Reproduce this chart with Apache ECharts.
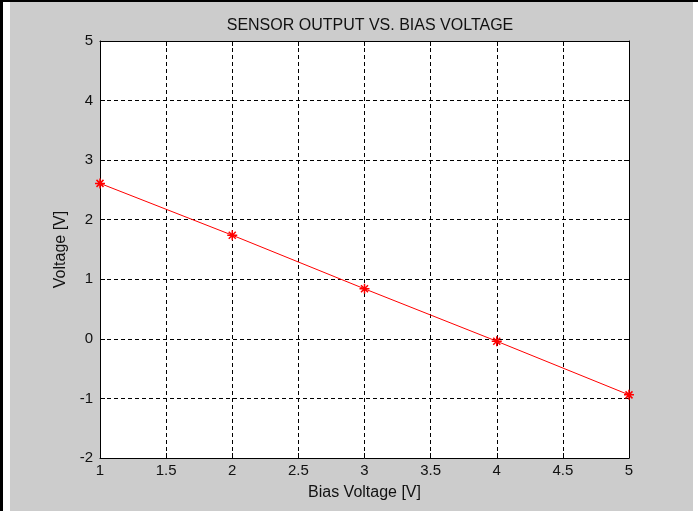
<!DOCTYPE html>
<html>
<head>
<meta charset="utf-8">
<script src="https://cdn.jsdelivr.net/npm/echarts@6/dist/echarts.min.js"></script>
<style>
html, body { margin: 0; padding: 0; background: #fff; }
#chart { width: 698px; height: 511px; }
</style>
</head>
<body>
<div id="chart"></div>
<script>
// bias voltage vs sensor output
const biasVoltage = [1, 2, 3, 4, 5];
const sensorOutput = [2.61, 1.74, 0.84, -0.04, -0.94];
const xTicks = [1, 1.5, 2, 2.5, 3, 3.5, 4, 4.5, 5];
const yTicks = [-2, -1, 0, 1, 2, 3, 4, 5];

const font = 'Arial, "Liberation Sans", sans-serif';
const dashed = { show: true, lineStyle: { color: '#000', type: [4, 3], width: 1 } };
const boxLine = { show: true, onZero: false, lineStyle: { color: '#000', width: 1 } };
const inTick = { show: true, inside: true, length: 5, lineStyle: { color: '#000' } };

let myChart = echarts.init(document.getElementById('chart'));
let option = {
    animation: false,
    backgroundColor: '#cccccc',
    graphic: [
        { type: 'rect', shape: { x: 0, y: 0, width: 698, height: 2 }, style: { fill: '#000' } },
        { type: 'rect', shape: { x: 0, y: 0, width: 3, height: 511 }, style: { fill: '#000' } },
        { type: 'rect', shape: { x: 3, y: 2, width: 7, height: 509 }, style: { fill: '#fff' } },
        { type: 'rect', shape: { x: 693, y: 2, width: 5, height: 509 }, style: { fill: '#fff' } }
    ],
    title: {
        text: 'SENSOR OUTPUT VS. BIAS VOLTAGE',
        left: 365,
        textAlign: 'center',
        top: 13,
        textStyle: { fontFamily: font, fontSize: 16, fontWeight: 'normal', color: '#111' }
    },
    grid: { left: 100, top: 41, right: 69, bottom: 53, backgroundColor: '#fff', show: true, borderWidth: 0 },
    xAxis: [
        {
            type: 'value', min: 1, max: 5, interval: 0.5,
            name: 'Bias Voltage [V]', nameLocation: 'middle', nameGap: 27,
            nameTextStyle: { fontFamily: font, fontSize: 16, color: '#111' },
            axisLine: boxLine, axisTick: inTick,
            axisLabel: { fontFamily: font, fontSize: 15, color: '#111', margin: 5,
                formatter: v => xTicks.includes(v) ? String(v) : '' },
            splitLine: dashed
        },
        {
            type: 'value', min: 1, max: 5, interval: 0.5, position: 'top',
            axisLine: boxLine, axisTick: inTick, axisLabel: { show: false }, splitLine: { show: false }
        }
    ],
    yAxis: [
        {
            type: 'value', min: -2, max: 5, interval: 1,
            name: 'Voltage [V]', nameLocation: 'middle', nameGap: 30,
            nameTextStyle: { fontFamily: font, fontSize: 16, color: '#111' },
            axisLine: boxLine, axisTick: inTick,
            axisLabel: { fontFamily: font, fontSize: 15, color: '#111', margin: 7,
                formatter: v => yTicks.includes(v) ? String(v) : '' },
            splitLine: dashed
        },
        {
            type: 'value', min: -2, max: 5, interval: 1, position: 'right',
            axisLine: boxLine, axisTick: inTick, axisLabel: { show: false }, splitLine: { show: false }
        }
    ],
    series: [
        {
            type: 'line',
            data: biasVoltage.map((x, i) => [x, sensorOutput[i]]),
            lineStyle: { color: '#ff0000', width: 1 },
            symbol: 'path://M0,-5L0,5M-5,0L5,0M-3.5,-3.5L3.5,3.5M-3.5,3.5L3.5,-3.5',
            symbolSize: 10,
            itemStyle: { color: '#ff0000', borderColor: '#ff0000', borderWidth: 1.5 },
            clip: false
        }
    ]
};
myChart.setOption(option, true);
</script>
</body>
</html>
